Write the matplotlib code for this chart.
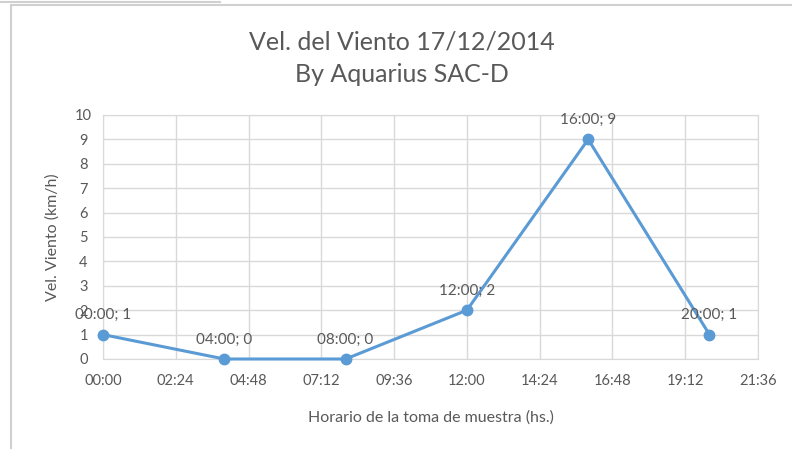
import matplotlib
matplotlib.use("Agg")
import matplotlib.pyplot as plt
from matplotlib.lines import Line2D

hours = [0, 4, 8, 12, 16, 20]
labels = ["00:00", "04:00", "08:00", "12:00", "16:00", "20:00"]
speeds = [1, 0, 0, 2, 9, 1]
xtick_hours = [0, 2.4, 4.8, 7.2, 9.6, 12.0, 14.4, 16.8, 19.2, 21.6]
xtick_labels = ["00:00", "02:24", "04:48", "07:12", "09:36", "12:00", "14:24", "16:48", "19:12", "21:36"]

plt.rcParams['font.family'] = ['Lato', 'DejaVu Sans']
txt = '#595959'
grid = '#d9d9d9'
blue = '#5b9bd5'

fig = plt.figure(figsize=(7.92, 4.49), dpi=100)
ax = fig.add_axes([103/792, 1-359/449, (758-103)/792, (359-115)/449])

ax.plot(hours, speeds, color=blue, lw=2.2, marker='o', ms=7.5, zorder=3, clip_on=False)
for h, l, s in zip(hours, labels, speeds):
    ax.annotate(f"{l}; {s}", (h, s), xytext=(0, 9), textcoords='offset points',
                ha='center', va='bottom', color=txt, fontsize=11)

ax.set_xlim(0, 21.6)
ax.set_ylim(0, 10)
ax.set_xticks(xtick_hours)
ax.set_xticklabels(xtick_labels)
ax.set_yticks(range(0, 11))
ax.grid(True, color=grid, lw=1)
ax.set_axisbelow(True)
for sp in ax.spines.values():
    sp.set_color(grid)
ax.tick_params(length=0, colors=txt, labelsize=10.5, pad=11)
ax.tick_params(axis='y', pad=14)
for t in ax.get_yticklabels():
    t.set_ha('center')

ax.set_xlabel("Horario de la toma de muestra (hs.)", color=txt, fontsize=11.5, labelpad=16)
ax.set_ylabel("Vel. Viento (km/h)", color=txt, fontsize=11.5, labelpad=11)

fig.text(402/792, 1-42/449, "Vel. del Viento 17/12/2014", ha='center', va='center', color=txt, fontsize=18)
fig.text(402/792, 1-75/449, "By Aquarius SAC-D", ha='center', va='center', color=txt, fontsize=18)

# screenshot frame lines
fig.add_artist(Line2D([11/792, 11/792], [0, 1-5/449], color='#d0d0d0', lw=1.5, transform=fig.transFigure))
fig.add_artist(Line2D([11/792, 1], [1-5/449, 1-5/449], color='#d0d0d0', lw=1.5, transform=fig.transFigure))
fig.add_artist(Line2D([0, 220/792], [1-2/449, 1-2/449], color='#d0d0d0', lw=1.5, transform=fig.transFigure))

fig.savefig("out.png", dpi=100)
